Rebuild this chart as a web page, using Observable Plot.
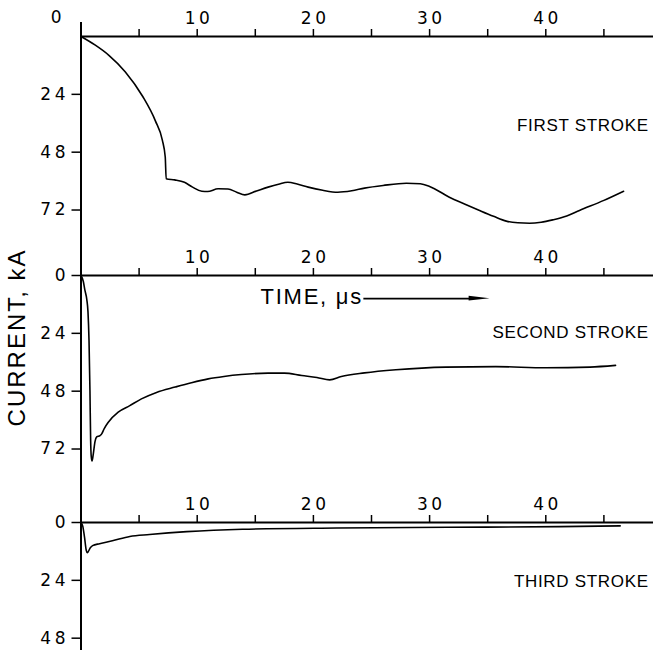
<!DOCTYPE html>
<html><head><meta charset="utf-8">
<script src="https://cdn.jsdelivr.net/npm/d3@7"></script>
<script src="https://cdn.jsdelivr.net/npm/@observablehq/plot@0.6"></script>
<style>
html,body{margin:0;padding:0;background:#fff;}
#chart{position:relative;width:653px;height:650px;overflow:hidden;background:#fff;}
#chart svg{position:absolute;left:0;overflow:visible;background:transparent;}
#chart text{fill:#000;}
#chart g[aria-label="x-axis tick label"] text,
#chart g[aria-label="y-axis tick label"] text{letter-spacing:3.5px;}
</style></head><body><div id="chart"></div>
<script>
// ---- data (time in µs, current in kA) ----
const timeTicksLabeled = [10, 20, 30, 40];
const timeTicksMinor = [5, 10, 15, 20, 25, 30, 35, 40, 45];
const yTicksFirst = [24, 48, 72];
const yTicksSecond = [0, 24, 48, 72];
const yTicksThird = [0, 24, 48];

const firstT = [0, 1.2, 2.4, 3.8, 5.3, 6.4, 7.0, 7.25, 7.33, 8.06, 8.9, 9.6, 10.4, 10.9, 11.8, 12.65, 13.4, 14.1, 15.1, 16.1, 17.0, 17.8, 18.6, 19.55, 20.8, 22.1, 23.3, 24.4, 26.0, 28.0, 29.2, 30.0, 31.7, 33.0, 34.3, 35.5, 36.6, 37.6, 38.6, 39.6, 40.6, 41.8, 42.9, 45.0, 46.7];
const firstI = [0, 3.5, 7.8, 14.6, 24.8, 35, 43, 50, 59, 59.5, 60.5, 62.5, 64.2, 64.3, 63.2, 63.3, 64.6, 65.7, 64.1, 62.5, 61.3, 60.5, 61.2, 62.5, 63.8, 64.6, 64.0, 62.9, 61.8, 60.9, 61.1, 62.2, 66.7, 69.5, 72.2, 74.6, 76.6, 77.3, 77.5, 77.1, 76.1, 74.5, 72.2, 68, 64.2];

const secondT = [0, 0.2, 0.34, 0.5, 0.6, 0.69, 0.77, 0.83, 0.88, 0.95, 1.06, 1.2, 1.35, 1.64, 1.78, 2.0, 2.35, 3.2, 4.2, 5.2, 6.5, 8.1, 9.5, 10.95, 12.3, 13.8, 16.1, 17.5, 19.0, 20.3, 21.4, 22.4, 24.4, 27.1, 31.4, 35.7, 40.0, 43.8, 46.0];
const secondI = [0, 2.5, 6.2, 10, 15, 27, 47.7, 68.5, 75, 77, 74, 69, 67, 66.4, 65.7, 63.5, 60.9, 56.7, 54, 51.2, 48.5, 46.3, 44.5, 42.9, 41.9, 41.1, 40.5, 40.5, 41.5, 42.3, 43.3, 41.9, 40.4, 39.1, 38, 37.8, 38.3, 38, 37.3];

const thirdT = [0, 0.15, 0.3, 0.45, 0.55, 0.8, 1.0, 1.6, 2.7, 4.2, 5.9, 9.1, 13.9, 22, 31.6, 41.2, 46.4];
const thirdI = [0, 1.5, 6, 11.5, 12.5, 10.5, 9.6, 8.8, 7.6, 5.8, 5.0, 3.8, 2.8, 2.3, 2.0, 1.7, 1.4];

const strokeLabels = ["FIRST STROKE", "SECOND STROKE", "THIRD STROKE"];
const strokeLabelI = [37, 23.6, 24.4];
const timeTitle = "TIME, μs";
const currentTitle = "CURRENT, kA";
const timeTitlePos = [15.45, 9.1];        // [µs, kA] in second panel
const arrowT = [24.3, 33.4, 35.2];        // shaft start, head base, tip
const arrowI = [9.6, 1.0];                // level, half-width of head
const currentTitleI = 25.7;               // kA in second panel

// ---- layout ----
const W = 653, X0PX = 80.5, PX_PER_US = 11.62, PX_PER_KA = 2.41;
const X_MAX = (W - X0PX) / PX_PER_US;
const LS = 3.5; // tick-label letter spacing
const DIGITS = "DejaVu Sans";
const LETTERS = "Liberation Sans";

function panel({top, height, zeroY, axisTopPx, t, i, yTicks, label, labelI, extra = []}) {
  const data = t.map((d, k) => ({t: d, i: i[k]}));
  const yMax = (height - zeroY) / PX_PER_KA;
  const yTop = -(zeroY - axisTopPx) / PX_PER_KA;
  const svg = Plot.plot({
    width: W, height,
    marginLeft: X0PX, marginRight: 0, marginTop: zeroY, marginBottom: 0,
    x: {domain: [0, X_MAX], label: null},
    y: {domain: [0, yMax], reverse: true, label: null},
    style: {overflow: "visible", background: "transparent", fontFamily: LETTERS},
    marks: [
      Plot.ruleX([0], {y1: yTop, y2: yMax, strokeWidth: 2}),
      Plot.ruleY([0], {x1: 0, x2: X_MAX, strokeWidth: 2}),
      Plot.axisX(timeTicksMinor, {anchor: "top", tickSize: 8, tickFormat: () => "", strokeWidth: 1.5, label: null}),
      Plot.axisX(timeTicksLabeled, {anchor: "top", tickSize: 0, tickPadding: 13, fontSize: 17, fontFamily: DIGITS, dx: LS / 2, label: null}),
      Plot.axisY(yTicks, {anchor: "left", tickSize: 9, tickPadding: 3, fontSize: 17, fontFamily: DIGITS, strokeWidth: 1.5, label: null}),
      Plot.line(data, {x: "t", y: "i", strokeWidth: 1.6, curve: "monotone-x"}),
      Plot.text([label], {x: X_MAX - 0.4, y: labelI, textAnchor: "end", fontSize: 17}),
      ...extra
    ]
  });
  svg.style.top = top + "px";
  return svg;
}

const chart = document.getElementById("chart");

chart.appendChild(panel({
  top: 0, height: 250, zeroY: 36, axisTopPx: 22,
  t: firstT, i: firstI, yTicks: yTicksFirst, label: strokeLabels[0], labelI: strokeLabelI[0],
  extra: [Plot.text(["0"], {x: 0, y: 0, dx: -19.5, dy: -19, textAnchor: "end", fontSize: 17, fontFamily: DIGITS})]
}));

const arrowHead = [
  {t: arrowT[1], lo: arrowI[0] - arrowI[1], hi: arrowI[0] + arrowI[1]},
  {t: arrowT[2], lo: arrowI[0], hi: arrowI[0]}
];
chart.appendChild(panel({
  top: 250, height: 240, zeroY: 25, axisTopPx: 0,
  t: secondT, i: secondI, yTicks: yTicksSecond, label: strokeLabels[1], labelI: strokeLabelI[1],
  extra: [
    Plot.text([timeTitle], {x: timeTitlePos[0], y: timeTitlePos[1], textAnchor: "start", fontSize: 22}),
    Plot.link([0], {x1: arrowT[0], x2: arrowT[1] + 0.2, y1: arrowI[0], y2: arrowI[0], strokeWidth: 1.8}),
    Plot.areaY(arrowHead, {x: "t", y1: "lo", y2: "hi", fill: "black"}),
    Plot.text([currentTitle], {x: 0, y: currentTitleI, dx: -63.5, rotate: -90, textAnchor: "middle", lineAnchor: "middle", fontSize: 24})
  ]
}));

chart.appendChild(panel({
  top: 490, height: 160, zeroY: 32, axisTopPx: 0,
  t: thirdT, i: thirdI, yTicks: yTicksThird, label: strokeLabels[2], labelI: strokeLabelI[2]
}));

// letter spacing of the lettering
d3.select(chart).selectAll("text").each(function() {
  const s = this.textContent;
  if (strokeLabels.includes(s)) this.style.letterSpacing = "0.7px";
  else if (s === timeTitle) this.style.letterSpacing = "1.75px";
  else if (s === currentTitle) this.style.letterSpacing = "2px";
});
</script>
</body></html>
